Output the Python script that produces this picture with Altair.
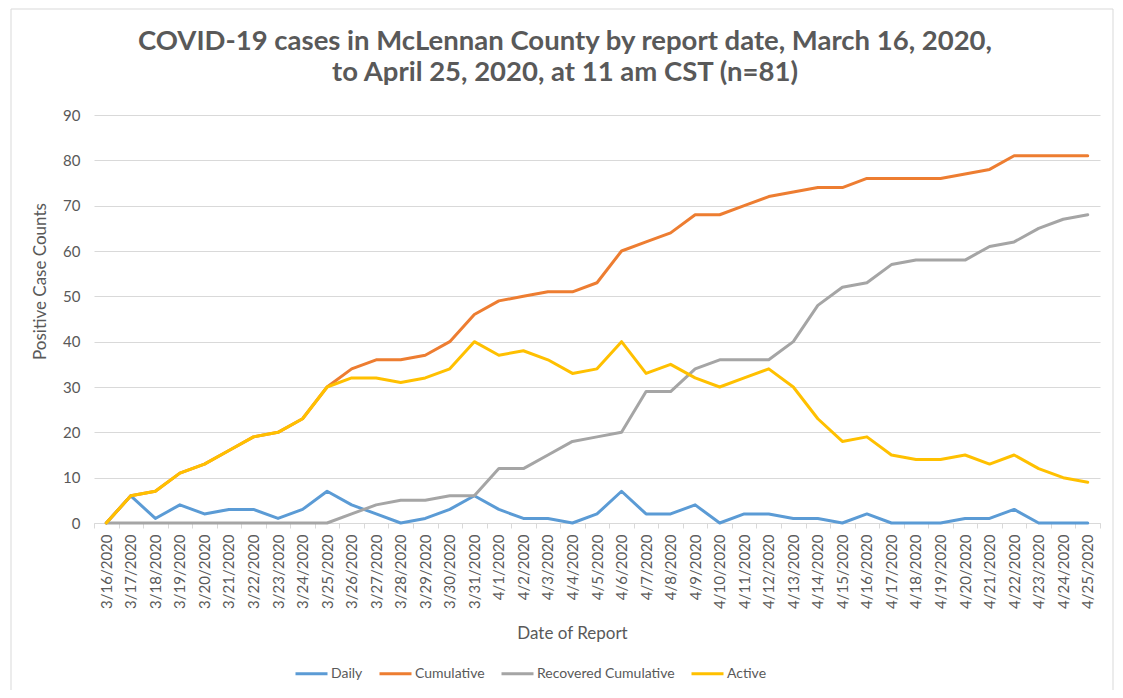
import altair as alt
import pandas as pd

dates = ["3/16/2020", "3/17/2020", "3/18/2020", "3/19/2020", "3/20/2020", "3/21/2020",
         "3/22/2020", "3/23/2020", "3/24/2020", "3/25/2020", "3/26/2020", "3/27/2020",
         "3/28/2020", "3/29/2020", "3/30/2020", "3/31/2020", "4/1/2020", "4/2/2020",
         "4/3/2020", "4/4/2020", "4/5/2020", "4/6/2020", "4/7/2020", "4/8/2020",
         "4/9/2020", "4/10/2020", "4/11/2020", "4/12/2020", "4/13/2020", "4/14/2020",
         "4/15/2020", "4/16/2020", "4/17/2020", "4/18/2020", "4/19/2020", "4/20/2020",
         "4/21/2020", "4/22/2020", "4/23/2020", "4/24/2020", "4/25/2020"]

daily = [0, 6, 1, 4, 2, 3, 3, 1, 3, 7, 4, 2, 0, 1, 3, 6, 3, 1, 1, 0, 2, 7, 2, 2, 4, 0,
         2, 2, 1, 1, 0, 2, 0, 0, 0, 1, 1, 3, 0, 0, 0]
cumulative = [0, 6, 7, 11, 13, 16, 19, 20, 23, 30, 34, 36, 36, 37, 40, 46, 49, 50, 51, 51,
              53, 60, 62, 64, 68, 68, 70, 72, 73, 74, 74, 76, 76, 76, 76, 77, 78, 81, 81, 81, 81]
recovered = [0, 0, 0, 0, 0, 0, 0, 0, 0, 0, 2, 4, 5, 5, 6, 6, 12, 12, 15, 18, 19, 20, 29, 29,
             34, 36, 36, 36, 40, 48, 52, 53, 57, 58, 58, 58, 61, 62, 65, 67, 68]
active = [0, 6, 7, 11, 13, 16, 19, 20, 23, 30, 32, 32, 31, 32, 34, 40, 37, 38, 36, 33, 34,
          40, 33, 35, 32, 30, 32, 34, 30, 23, 18, 19, 15, 14, 14, 15, 13, 15, 12, 10, 9]

series_names = ["Daily", "Cumulative", "Recovered Cumulative", "Active"]
series_colors = ["#5B9BD5", "#ED7D31", "#A5A5A5", "#FFC000"]
y_ticks = [0, 10, 20, 30, 40, 50, 60, 70, 80, 90]
title_lines = ["COVID-19 cases in McLennan County by report date, March 16, 2020,",
               "to April 25, 2020, at 11 am CST (n=81)"]

rows = []
for name, vals in zip(series_names, [daily, cumulative, recovered, active]):
    for d, v in zip(dates, vals):
        rows.append({"date": d, "value": v, "series": name})
df = pd.DataFrame(rows)

FONT = "Lato"
TXT = "#595959"
GRID = "#D9D9D9"

lines = alt.Chart(df).mark_line(strokeWidth=3, strokeJoin="round", strokeCap="round").encode(
    x=alt.X("date:O", sort=dates, bandPosition=0.5,
            scale=alt.Scale(type="band", paddingInner=0, paddingOuter=0),
            axis=alt.Axis(title="Date of Report", labelAngle=-90, labelFontSize=15,
                          labelColor=TXT, labelFont=FONT, tickBand="extent", tickSize=5,
                          tickColor=GRID, domainColor=GRID, labelPadding=6, grid=False,
                          titleFontSize=17, titleColor=TXT, titleFont=FONT,
                          titleFontWeight="normal", titleX=478, titleY=110,
                          titleBaseline="middle", titleAlign="center")),
    y=alt.Y("value:Q", scale=alt.Scale(domain=[0, 90], nice=False),
            axis=alt.Axis(values=y_ticks, grid=True, gridColor=GRID, ticks=False, domain=False,
                          labelPadding=14, labelFontSize=15, labelColor=TXT, labelFont=FONT,
                          title="Positive Case Counts", titleX=-54, titleY=166,
                          titleFontSize=17, titleColor=TXT, titleFont=FONT,
                          titleFontWeight="normal", titleBaseline="middle",
                          titleAlign="center")),
    color=alt.Color("series:N", sort=series_names,
                    scale=alt.Scale(domain=series_names, range=series_colors),
                    legend=alt.Legend(orient="none", legendX=200, legendY=541,
                                      direction="horizontal", columns=4, title=None,
                                      labelFontSize=14, labelColor=TXT, labelFont=FONT,
                                      symbolType="stroke", symbolSize=1024,
                                      symbolStrokeWidth=3, columnPadding=10, labelOffset=2)),
)

border = alt.Chart(pd.DataFrame({"a": [0]})).mark_rect(
    fillOpacity=0, stroke=GRID, strokeWidth=1, clip=False
).encode(x=alt.value(-83), x2=alt.value(1019), y=alt.value(-106), y2=alt.value(600))

chart = alt.layer(border, lines).properties(
    width=1006, height=408,
    padding={"left": 86, "top": 107, "right": 15, "bottom": 167},
    autosize="none",
    background="white",
    title=alt.Title(text=title_lines, fontSize=27.5, font=FONT, fontWeight="bold", color=TXT,
                    anchor="middle", dx=-32, dy=104, offset=26, lineHeight=31),
).configure_view(stroke=None)

chart.save("out.html", embed_options={"renderer": "svg", "actions": False})
